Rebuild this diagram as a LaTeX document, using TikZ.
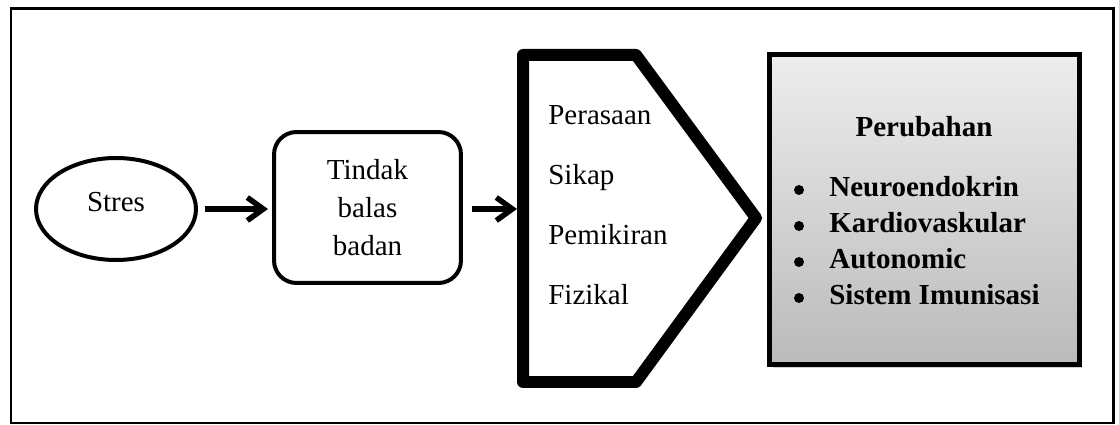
\documentclass[tikz,border=0pt]{standalone}
\usepackage{fontspec}
\setmainfont{Liberation Serif}
\usetikzlibrary{positioning}
\usetikzlibrary{arrows.meta}
\usetikzlibrary{shapes.geometric}
\usetikzlibrary{shadows}

\begin{document}
\begin{tikzpicture}[x=0.02cm,y=-0.02cm,font=\fontsize{16.5}{19}\selectfont,
	arr/.style={line width=0.11cm,-{Straight Barb[length=0.32cm,width=0.46cm]}},
	teks/.style={inner sep=0pt,anchor=base west},
	titik/.style={circle,fill,inner sep=0pt,minimum size=0.2cm}]
		\useasboundingbox (0,0) rectangle (1119,425);
		\draw[line width=0.06cm] (11,9) rectangle (1113,423);
		\node[draw,ellipse,line width=0.08cm,minimum width=3.2cm,minimum height=2.04cm,text depth=0.3cm] (stres) at (116,209) {Stres};
		\node[draw,line width=0.08cm,rounded corners=0.45cm,minimum width=3.74cm,minimum height=3.02cm,align=center,font=\fontsize{16.5}{21.8}\selectfont] (tindak) at (367.5,207.5) {Tindak\\balas\\badan};
		\draw[line width=0.24cm,line join=round] (523,55) -- (636,55) -- (756,218) -- (636,382) -- (523,382) -- cycle;
		\coordinate (reaksi) at (517,209);
		\foreach \w [count=\i] in {Perasaan,Sikap,Pemikiran,Fizikal}
		{\node[teks] (r\i) at (548,{125+60*(\i-1)}) {\w};}
		\draw[arr,shorten <=0.14cm,shorten >=0.08cm] (stres.east) -- (stres.east -| tindak.west);
		\draw[arr,shorten <=0.18cm] (tindak.east |- reaksi) -- (reaksi);
		\node[draw,line width=0.1cm,minimum width=6.2cm,minimum height=6.2cm,top color=black!7,bottom color=black!27,
			drop shadow={shadow xshift=0.06cm,shadow yshift=-0.08cm,opacity=0.35}] (ubah) at (924.5,209.5) {};
		\node[inner sep=0pt,anchor=base,font=\fontsize{16.5}{19}\selectfont\bfseries] (judul) at (924,137) {Perubahan};
		\foreach \w [count=\i] in {Neuroendokrin,Kardiovaskular,Autonomic,Sistem Imunisasi}
		{\node[titik] (t\i) at (799,{190+36*(\i-1)}) {};
		 \node[teks,font=\fontsize{16.5}{19}\selectfont\bfseries] (b\i) at (829,{197+36*(\i-1)}) {\w};}
	   \end{tikzpicture}
\end{document}
